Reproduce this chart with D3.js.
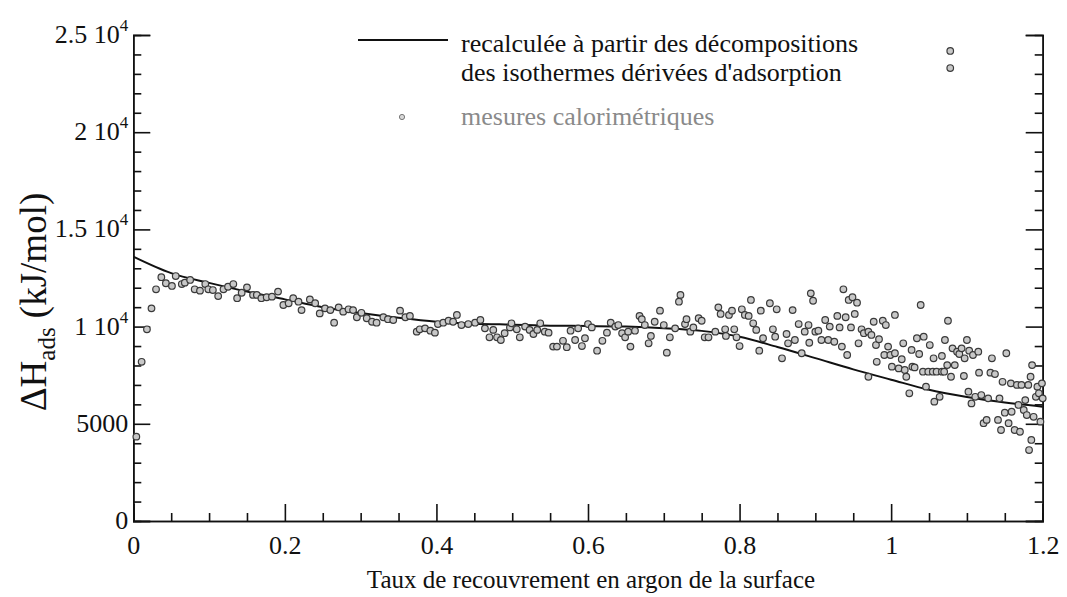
<!DOCTYPE html>
<html>
<head>
<meta charset="utf-8">
<script src="https://cdn.jsdelivr.net/npm/d3@7"></script>
<style>
  html, body { margin: 0; padding: 0; background: #fff; }
  svg { display: block; }
  text { font-family: "Liberation Serif", "DejaVu Serif", serif; fill: #111; }
</style>
</head>
<body>
<svg id="chart" width="1067" height="597"></svg>
<script>
// ---- data ----
const xTickValues = [0, 0.2, 0.4, 0.6, 0.8, 1, 1.2];
const xTickLabels = ["0", "0.2", "0.4", "0.6", "0.8", "1", "1.2"];
const yTickValues = [0, 5000, 10000, 15000, 20000, 25000];
const yTickLabels = ["0", "5000", "1 10^4", "1.5 10^4", "2 10^4", "2.5 10^4"];

const curveX = [0, 0.05, 0.1, 0.15, 0.2, 0.25, 0.3, 0.35, 0.4, 0.45, 0.5, 0.55, 0.6,
                0.65, 0.7, 0.75, 0.8, 0.85, 0.9, 0.95, 1.0, 1.05, 1.1, 1.15, 1.2];
const curveY = [13600, 12750, 12250, 11800, 11400, 11000, 10700, 10450, 10250, 10150, 10100, 10050, 10030,
                10000, 9920, 9780, 9480, 8950, 8380, 7800, 7270, 6750, 6380, 6100, 5880];

const calX = [
  0.004, 0.011, 0.018, 0.024, 0.030, 0.037, 0.043, 0.051, 0.056, 0.064, 0.068, 0.075, 0.081, 0.088,
  0.095, 0.099, 0.105, 0.112, 0.119, 0.125, 0.132, 0.137, 0.143, 0.150, 0.158, 0.163, 0.169, 0.176,
  0.183, 0.191, 0.198, 0.205, 0.211, 0.218, 0.222, 0.233, 0.240, 0.246, 0.253, 0.260, 0.265, 0.271,
  0.277, 0.284, 0.290, 0.295, 0.301, 0.308, 0.315, 0.321, 0.330, 0.336, 0.343, 0.352, 0.359, 0.365,
  0.374, 0.378, 0.385, 0.392, 0.398, 0.402, 0.409, 0.416, 0.422, 0.427, 0.433, 0.442, 0.451, 0.458,
  0.464, 0.470, 0.475, 0.480, 0.485, 0.490, 0.497, 0.499, 0.506, 0.510, 0.517, 0.523, 0.528, 0.533,
  0.537, 0.543, 0.548, 0.554, 0.559, 0.567, 0.572, 0.577, 0.583, 0.587, 0.592, 0.596, 0.600, 0.605,
  0.612, 0.619, 0.625, 0.630, 0.636, 0.640, 0.645, 0.649, 0.653, 0.656, 0.662, 0.668, 0.671, 0.675,
  0.680, 0.683, 0.688, 0.695, 0.700, 0.704, 0.708, 0.715, 0.720, 0.722, 0.728, 0.730, 0.735, 0.739,
  0.746, 0.750, 0.754, 0.759, 0.768, 0.772, 0.775, 0.781, 0.782, 0.786, 0.790, 0.793, 0.796, 0.800,
  0.803, 0.807, 0.812, 0.815, 0.818, 0.822, 0.826, 0.828, 0.831, 0.840, 0.844, 0.847, 0.849, 0.856,
  0.862, 0.864, 0.870, 0.873, 0.878, 0.882, 0.886, 0.891, 0.892, 0.894, 0.897, 0.900, 0.904, 0.908,
  0.913, 0.917, 0.919, 0.925, 0.929, 0.932, 0.935, 0.937, 0.940, 0.942, 0.944, 0.947, 0.949, 0.952,
  0.955, 0.957, 0.961, 0.964, 0.970, 0.970, 0.974, 0.977, 0.980, 0.981, 0.984, 0.989, 0.991, 0.993,
  0.996, 0.999, 1.001, 1.005, 1.005, 1.010, 1.014, 1.016, 1.018, 1.020, 1.024, 1.027, 1.028, 1.031,
  1.034, 1.037, 1.039, 1.042, 1.043, 1.046, 1.049, 1.051, 1.055, 1.056, 1.057, 1.060, 1.064, 1.067,
  1.067, 1.070, 1.071, 1.074, 1.075, 1.079, 1.081, 1.084, 1.087, 1.090, 1.093, 1.096, 1.097, 1.100,
  1.102, 1.103, 1.106, 1.108, 1.111, 1.115, 1.116, 1.119, 1.122, 1.126, 1.128, 1.131, 1.133, 1.137,
  1.141, 1.143, 1.145, 1.147, 1.150, 1.152, 1.155, 1.158, 1.159, 1.163, 1.166, 1.168, 1.170, 1.172,
  1.175, 1.177, 1.179, 1.181, 1.182, 1.184, 1.185, 1.186, 1.188, 1.191, 1.193, 1.195, 1.197, 1.199,
  1.200, 1.078, 1.078
];
const calY = [
  4340, 8190, 9860, 10940, 11920, 12540, 12230, 12090, 12600, 12190, 12260, 12400, 11920, 11850,
  12190, 11920, 11880, 11570, 11920, 12050, 12190, 11460, 11740, 12020, 11630, 11630, 11460, 11510,
  11540, 11800, 11110, 11200, 11460, 11280, 10850, 11400, 11200, 10680, 10940, 10850, 10200, 10990,
  10770, 10890, 10850, 10480, 10710, 10430, 10250, 10200, 10480, 10380, 10340, 10820, 10480, 10550,
  9740, 9860, 9910, 9790, 9690, 10130, 10200, 10300, 10250, 10600, 10080, 10130, 10200, 10340,
  9910, 9450, 9830, 9450, 9310, 9660, 9960, 10170, 9860, 9450, 10000, 9830, 9620, 9830,
  10170, 9740, 9690, 8970, 8970, 9270, 8940, 9790, 9310, 9910, 9000, 9400, 10130, 9960,
  8760, 9270, 9690, 10200, 10000, 10080, 9660, 9450, 9740, 8970, 9790, 10550, 10380, 10080,
  9140, 9520, 10250, 10820, 10080, 8660, 9450, 9910, 11280, 11630, 10130, 10380, 9740, 9960,
  10430, 10300, 9450, 9450, 9740, 10990, 10650, 9860, 9520, 10600, 10820, 9860, 9450, 9000,
  10890, 10600, 10550, 11370, 10170, 9830, 8760, 10820, 9400, 11200, 9860, 9480, 10890, 8370,
  9620, 9140, 10850, 9310, 10130, 8630, 9740, 10080, 9170, 11710, 11330, 9740, 9790, 9310,
  10340, 9310, 10000, 9220, 10550, 9960, 8970, 11920, 10480, 8540, 11370, 9960, 11510, 10650,
  11230, 9140, 9860, 9660, 9740, 7420, 9570, 10250, 9050, 8190, 9350, 10300, 8540, 10080,
  8970, 8540, 7940, 10600, 8630, 7850, 8320, 9140, 7770, 7420, 6570, 8800, 7940, 7900,
  9400, 8590, 11110, 7680, 9480, 6910, 7680, 9050, 7680, 8370, 6140, 7680, 6390, 8490,
  7680, 7680, 9310, 8020, 10300, 7420, 8880, 8020, 8710, 8590, 8880, 7460, 8370, 9310,
  6650, 8760, 6050, 8540, 6390, 8710, 7630, 6480, 5030, 5200, 6310, 7630, 8370, 7560,
  5200, 6310, 4680, 7160, 5570, 8630, 5030, 7080, 5620, 4680, 7000, 5970, 4590, 7000,
  5710, 6220, 5450, 7000, 3650, 7420, 4170, 8020, 5360, 6390, 6910, 6570, 5110, 7080,
  6310, 24180, 23300
];

// ---- layout ----
const svg = d3.select("#chart");
const padL = 133.3, padR = 1042.7, padT = 35, padB = 521;

const x = d3.scaleLinear().domain([0, 1.2]).range([padL, padR]);
const y = d3.scaleLinear().domain([0, 25000]).range([padB, padT]);

const majorLen = 17, minorLen = 8;
const xMinor = d3.range(0, 1.2001, 0.05).filter(v => !xTickValues.some(t => Math.abs(t - v) < 1e-6));
const yMinor = d3.range(0, 25001, 1000).filter(v => v % 5000 !== 0);

// bottom axis
const gx = svg.append("g").attr("transform", `translate(0,${padB})`);
gx.call(d3.axisBottom(x).tickValues(xTickValues).tickSize(-majorLen).tickFormat((d, i) => xTickLabels[i]));
const gxm = svg.append("g").attr("transform", `translate(0,${padB})`);
gxm.call(d3.axisBottom(x).tickValues(xMinor).tickSize(-minorLen).tickFormat(""));

// left axis
const gy = svg.append("g").attr("transform", `translate(${padL},0)`);
gy.call(d3.axisLeft(y).tickValues(yTickValues).tickSize(-majorLen).tickFormat(""));
const gym = svg.append("g").attr("transform", `translate(${padL},0)`);
gym.call(d3.axisLeft(y).tickValues(yMinor).tickSize(-minorLen).tickFormat(""));

// right axis
const gr = svg.append("g").attr("transform", `translate(${padR},0)`);
gr.call(d3.axisRight(y).tickValues(yTickValues).tickSize(-majorLen).tickFormat(""));
const grm = svg.append("g").attr("transform", `translate(${padR},0)`);
grm.call(d3.axisRight(y).tickValues(yMinor).tickSize(-minorLen).tickFormat(""));

svg.selectAll("g").attr("font-family", "Liberation Serif");
svg.selectAll(".domain").attr("stroke", "#111").attr("stroke-width", 1.6);
svg.selectAll(".tick line").attr("stroke", "#111").attr("stroke-width", 1.6);
gx.selectAll(".tick text")
  .attr("font-size", 26).attr("fill", "#111")
  .attr("dy", "0").attr("y", 33);

// y tick labels with superscripts
yTickValues.forEach((v, i) => {
  const lab = yTickLabels[i];
  const t = svg.append("text")
    .attr("x", padL - 5)
    .attr("y", y(v) + 8)
    .attr("text-anchor", "end")
    .attr("font-size", 26);
  if (lab.includes("^")) {
    const parts = lab.split("^");
    t.append("tspan").text(parts[0]);
    t.append("tspan").attr("font-size", 17).attr("dy", -12).text(parts[1]);
  } else {
    t.text(lab);
  }
});

// y axis title
const yt = svg.append("text")
  .attr("transform", `translate(46,${(padT + padB) / 2 + 24}) rotate(-90)`)
  .attr("text-anchor", "middle")
  .attr("font-size", 37);
yt.append("tspan").text("\u0394H");
yt.append("tspan").attr("font-size", 25).attr("dy", 9).text("ads");
yt.append("tspan").attr("dy", -9).text(" (kJ/mol)");

// x axis title
svg.append("text")
  .attr("x", 591)
  .attr("y", 588)
  .attr("text-anchor", "middle")
  .attr("font-size", 25)
  .text("Taux de recouvrement en argon de la surface");

// curve
const curveData = curveX.map((v, i) => [v, curveY[i]]);
svg.append("path")
  .datum(curveData)
  .attr("fill", "none")
  .attr("stroke", "#111")
  .attr("stroke-width", 2)
  .attr("d", d3.line().x(d => x(d[0])).y(d => y(d[1])).curve(d3.curveMonotoneX));

// calorimetric points
const calData = calX.map((v, i) => [v, calY[i]]);
svg.append("g").selectAll("circle")
  .data(calData)
  .join("circle")
  .attr("cx", d => x(d[0]))
  .attr("cy", d => y(d[1]))
  .attr("r", 3.3)
  .attr("fill", "#c8c8c8")
  .attr("stroke", "#3a3a3a")
  .attr("stroke-width", 1.2);

// legend
svg.append("line")
  .attr("x1", 358).attr("x2", 448).attr("y1", 40).attr("y2", 40)
  .attr("stroke", "#111").attr("stroke-width", 1.8);
svg.append("text").attr("x", 461).attr("y", 52).attr("font-size", 26)
  .text("recalculée à partir des décompositions");
svg.append("text").attr("x", 461).attr("y", 81).attr("font-size", 26)
  .text("des isothermes dérivées d'adsorption");
svg.append("circle").attr("cx", 402).attr("cy", 117).attr("r", 2.6)
  .attr("fill", "#d8d8d8").attr("stroke", "#777").attr("stroke-width", 1);
svg.append("text").attr("x", 461).attr("y", 125).attr("font-size", 26)
  .style("fill", "#8a8a8a")
  .text("mesures calorimétriques");
</script>
</body>
</html>
